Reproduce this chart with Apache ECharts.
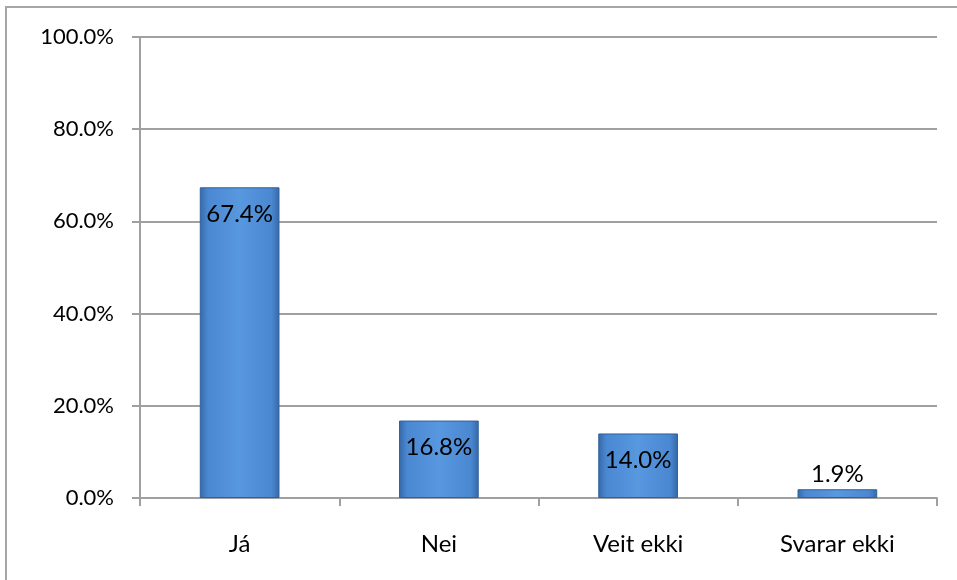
<!DOCTYPE html>
<html>
<head>
<meta charset="utf-8">
<script src="https://cdn.jsdelivr.net/npm/echarts@6/dist/echarts.min.js"></script>
<style>
  html, body { margin: 0; padding: 0; background: #fff; }
  #chart { width: 957px; height: 580px; }
</style>
</head>
<body>
<div id="chart"></div>
<script>
// svör
const categories = ['Já', 'Nei', 'Veit ekki', 'Svarar ekki'];
const values = [67.4, 16.8, 14.0, 1.9];
const yTicks = [0, 20, 40, 60, 80, 100];

const font = 'Lato, "Noto Sans", sans-serif';
const barFill = new echarts.graphic.LinearGradient(0, 0, 1, 0, [
    { offset: 0, color: '#3668a8' },
    { offset: 0.1, color: '#4a88d2' },
    { offset: 0.5, color: '#5898df' },
    { offset: 0.9, color: '#4a88d2' },
    { offset: 1, color: '#3668a8' }
]);

var myChart = echarts.init(document.getElementById('chart'));
myChart.setOption({
    animation: false,
    backgroundColor: '#fff',
    graphic: [{
        type: 'rect',
        shape: { x: 6, y: 7, width: 1000, height: 620 },
        style: { fill: 'none', stroke: '#a6a6a6', lineWidth: 2 }
    }],
    grid: { left: 140, right: 20, top: 37, bottom: 82 },
    xAxis: {
        type: 'category',
        data: categories,
        axisLine: { lineStyle: { color: '#a0a0a0', width: 2 } },
        axisTick: { show: true, length: 8, lineStyle: { color: '#a0a0a0', width: 2 } },
        axisLabel: { color: '#000', fontSize: 24, fontFamily: font, margin: 34 }
    },
    yAxis: {
        type: 'value',
        min: yTicks[0],
        max: yTicks[yTicks.length - 1],
        interval: 20,
        axisLine: { show: true, lineStyle: { color: '#a0a0a0', width: 2 } },
        axisTick: { show: true, length: 8, lineStyle: { color: '#a0a0a0', width: 2 } },
        splitLine: { lineStyle: { color: '#a0a0a0', width: 2 } },
        axisLabel: {
            color: '#000', fontSize: 22, fontFamily: font, margin: 26,
            formatter: v => v.toFixed(1) + '%'
        }
    },
    series: [{
        type: 'bar',
        barWidth: '40%',
        data: values.map((v, i) => ({
            value: v,
            label: i === values.length - 1
                ? { position: 'top', distance: 3 }
                : { position: 'insideTop', distance: 15 }
        })),
        itemStyle: { color: barFill, borderColor: '#30609c', borderWidth: 1 },
        label: {
            show: true,
            color: '#000',
            fontSize: 24,
            fontFamily: font,
            formatter: p => p.value.toFixed(1) + '%'
        }
    }]
});
</script>
</body>
</html>
